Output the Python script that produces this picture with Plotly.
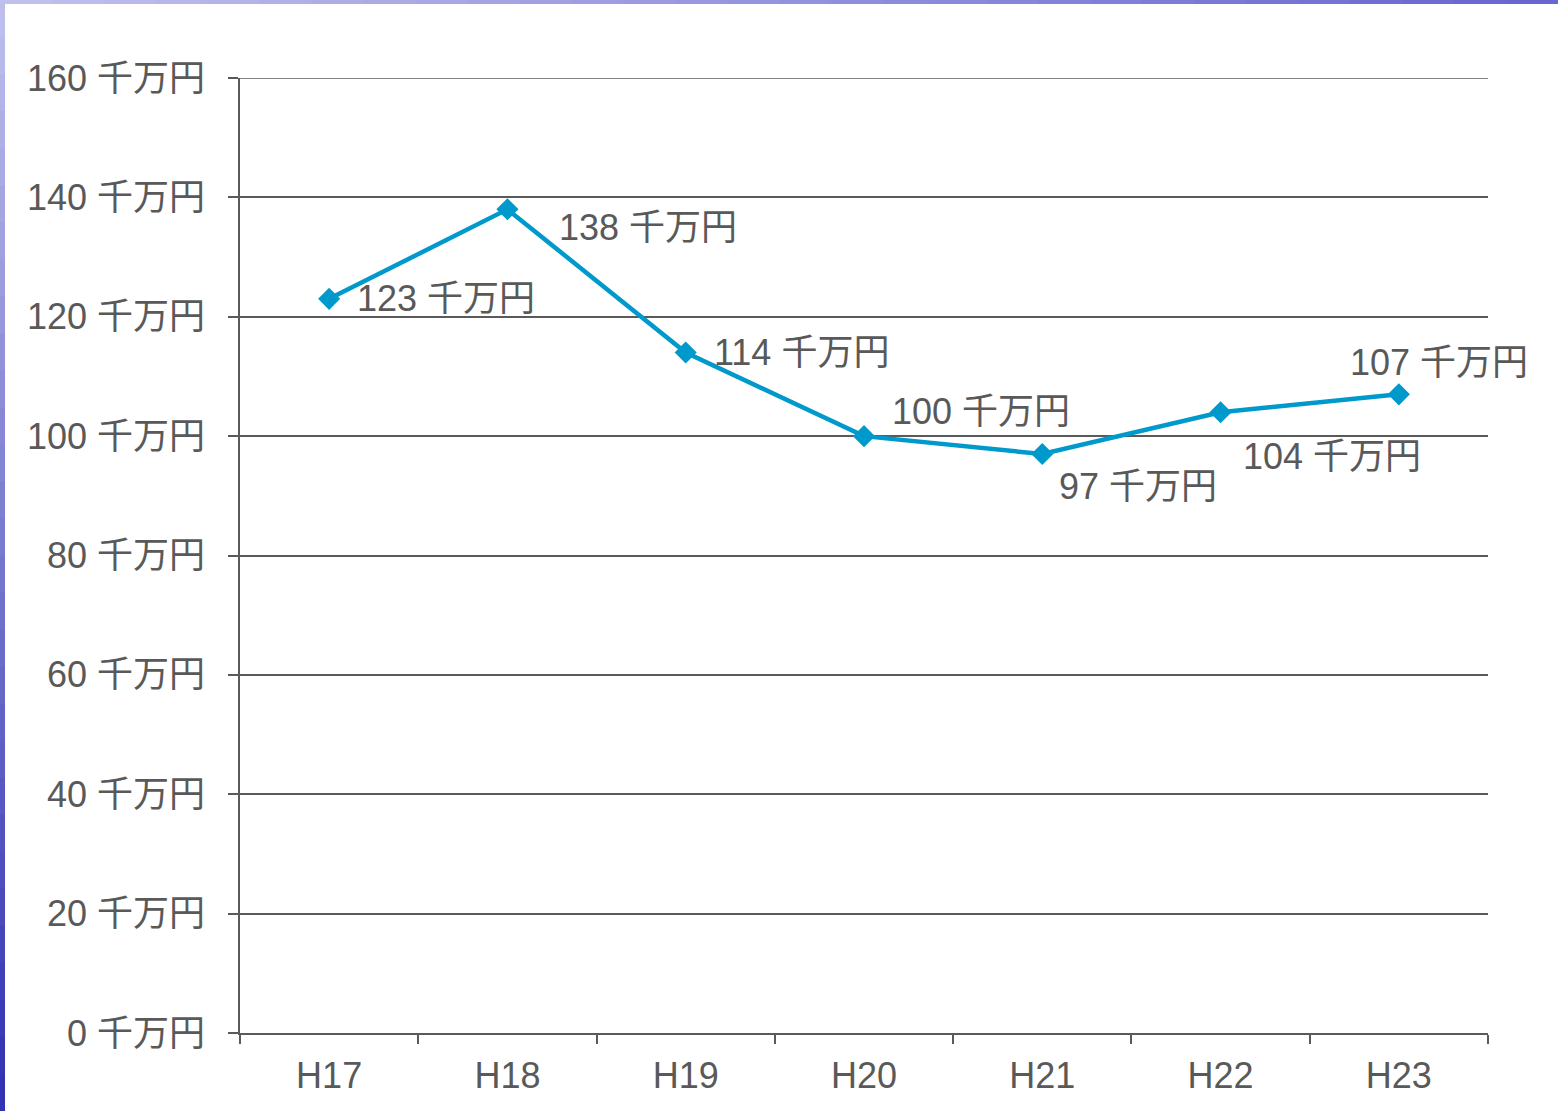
import plotly.graph_objects as go

# data
years = ['H17', 'H18', 'H19', 'H20', 'H21', 'H22', 'H23']
values = [123, 138, 114, 100, 97, 104, 107]
unit = ' 千万円'
y_ticks = [0, 20, 40, 60, 80, 100, 120, 140, 160]

# label offsets per point (pixels): (xshift, yshift)
label_pos = [(26, 0), (50, -18), (26, 0), (26, 25), (15, -32), (20, -44), (-51, 32)]

W, H = 1558, 1111
L, R, T, B = 240, 70, 78, 78
pw, ph = W - L - R, H - T - B

def px_x(x):
    return (x - L) / pw

def px_y(y):
    return (H - B - y) / ph

def mix(c0, c1, t):
    return 'rgb(%d,%d,%d)' % tuple(int(a + (b - a) * t) for a, b in zip(c0, c1))

font_fam = 'Liberation Sans, Arial, Noto Sans CJK JP, sans-serif'
txt_col = '#595959'
grid_col = '#5a5a5a'

fig = go.Figure()
fig.add_trace(go.Scatter(
    x=years, y=values, mode='lines+markers',
    line=dict(color='#0099cc', width=4.5),
    marker=dict(symbol='diamond', size=17, color='#0099cc'),
    showlegend=False, hoverinfo='x+y'))

for yr, v, (dx, dy) in zip(years, values, label_pos):
    fig.add_annotation(x=yr, y=v, text=f'{v}{unit}', showarrow=False,
                       xanchor='left', yanchor='middle', xshift=dx, yshift=dy,
                       font=dict(size=36, color=txt_col, family=font_fam))

shapes = []
# top gridline (sits on the plot edge, plotly does not draw it)
shapes.append(dict(type='line', xref='paper', yref='y', x0=px_x(230), x1=1,
                   y0=160, y1=160, line=dict(color=grid_col, width=1.5)))

# decorative slide border: gradient strip on the left and on top
n = 30
for i in range(n):
    t = i / (n - 1)
    y0 = i * H / n
    y1 = (i + 1) * H / n + 1
    shapes.append(dict(type='rect', xref='paper', yref='paper',
                       x0=px_x(0), x1=px_x(5), y0=px_y(y1), y1=px_y(y0),
                       fillcolor=mix((190, 190, 236), (50, 50, 178), t),
                       line_width=0, layer='below'))
    x0 = i * W / n
    x1 = (i + 1) * W / n + 1
    shapes.append(dict(type='rect', xref='paper', yref='paper',
                       x0=px_x(x0), x1=px_x(x1), y0=px_y(4), y1=px_y(0),
                       fillcolor=mix((192, 192, 236), (104, 102, 208), t),
                       line_width=0, layer='below'))

fig.update_layout(
    width=W, height=H,
    margin=dict(l=L, r=R, t=T, b=B),
    paper_bgcolor='white', plot_bgcolor='white',
    font=dict(family=font_fam, color=txt_col, size=36),
    shapes=shapes,
)
fig.update_xaxes(
    type='category', range=[-0.5, len(years) - 0.5],
    tickson='boundaries', ticks='outside', ticklen=9,
    tickcolor=grid_col, tickwidth=1.5,
    showline=True, linecolor=grid_col, linewidth=1.5,
    showgrid=False, tickfont=dict(size=36, color=txt_col),
    ticklabelstandoff=10,
)
fig.update_yaxes(
    range=[0, 160], tickvals=y_ticks, ticktext=[f'{t}{unit}' for t in y_ticks],
    ticks='outside', ticklen=10, tickcolor=grid_col, tickwidth=1.5,
    showline=True, linecolor=grid_col, linewidth=1.5,
    showgrid=True, gridcolor=grid_col, gridwidth=1.5, zeroline=False,
    tickfont=dict(size=36, color=txt_col), ticklabelstandoff=16,
)

fig.write_html('out.html', config={'displayModeBar': False},
               post_script="document.body.style.margin='0';")
